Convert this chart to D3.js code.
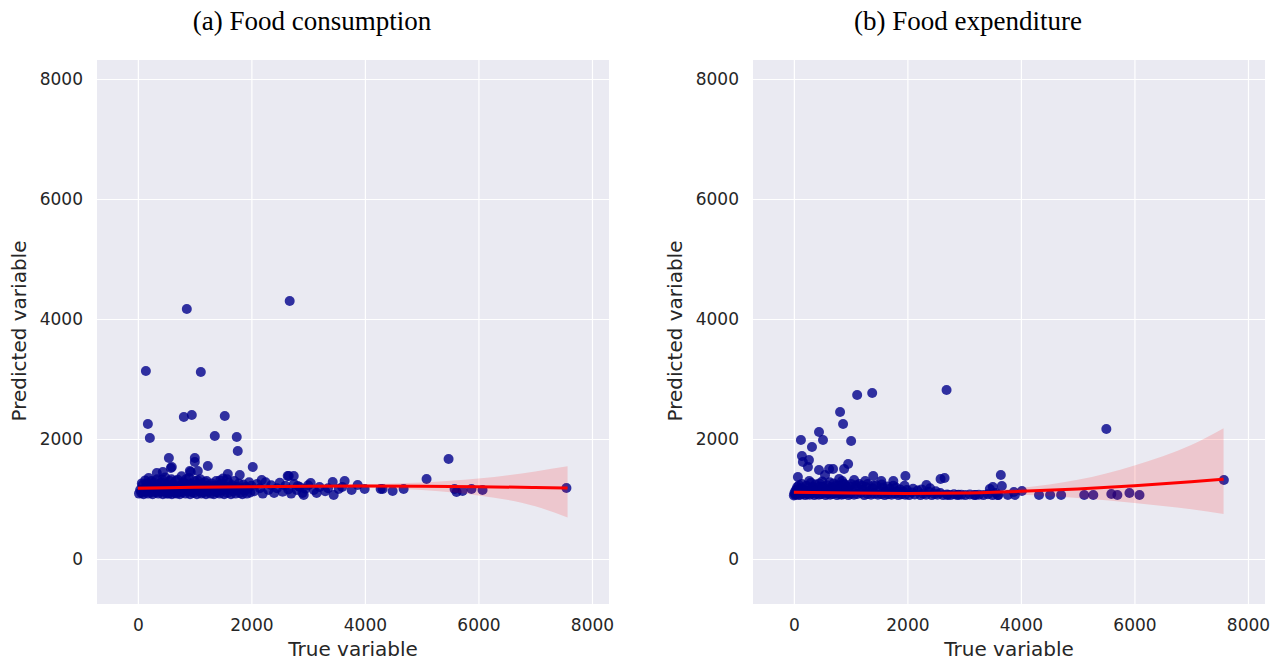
<!DOCTYPE html>
<html>
<head>
    <title></title>
    <meta charset="utf-8">
    <style>
        body { margin: 0; background: #fff; }
    </style>
</head>
<body>
<script src="https://cdn.jsdelivr.net/npm/d3@7"></script>
<script>
    // values
    var titles = ['(a) Food consumption', '(b) Food expenditure'];
    var tickValues = [0, 2000, 4000, 6000, 8000];

    var consumptionPoints = [
        [20,1090],[40,1150],[60,1100],[80,1230],[100,1080],[120,1180],[140,1120],[160,1260],[180,1090],[200,1200],
        [220,1140],[240,1300],[260,1080],[280,1170],[300,1240],[320,1110],[340,1330],[360,1090],[380,1200],[400,1150],
        [420,1280],[440,1080],[460,1190],[480,1360],[500,1120],[520,1230],[540,1090],[560,1300],[580,1160],[600,1080],
        [620,1250],[640,1130],[660,1200],[680,1090],[700,1320],[720,1150],[740,1080],[760,1230],[780,1110],[800,1280],
        [820,1170],[840,1090],[860,1210],[880,1130],[900,1350],[920,1080],[940,1250],[960,1160],[980,1100],[1000,1300],
        [1020,1190],[1040,1080],[1060,1240],[1080,1130],[1100,1330],[1120,1090],[1140,1200],[1160,1150],[1180,1280],[1200,1080],
        [1220,1220],[1240,1120],[1260,1180],[1280,1090],[1300,1260],[1320,1150],[1340,1080],[1360,1220],[1380,1300],[1400,1110],
        [1420,1190],[1440,1090],[1460,1250],[1480,1140],[1500,1340],[1520,1080],[1540,1210],[1560,1160],[1580,1100],[1600,1270],
        [1620,1190],[1640,1080],[1660,1230],[1680,1130],[1700,1300],[1720,1090],[1740,1200],[1760,1150],[1780,1260],[1800,1100],
        [1820,1180],[1840,1080],[1860,1240],[1880,1140],[1900,1200],[1920,1090],[1940,1170],[1960,1280],[1980,1110],[2000,1220],
        [70,1260],[130,1310],[190,1350],[250,1200],[330,1180],[410,1120],[450,1240],[530,1170],[590,1330],[650,1100],
        [710,1210],[770,1380],[830,1260],[890,1170],[950,1120],[1010,1230],[1070,1170],[1150,1110],[1210,1300],[1270,1140],
        [1350,1190],[1430,1230],[1510,1170],[1570,1330],[1650,1190],[334,1433],[440,1450],[1584,1417],[1795,1400],[2182,1317],
        [110,1140],[170,1200],[230,1110],[290,1280],[370,1140],[430,1320],[510,1090],[570,1220],[670,1300],[730,1120],
        [790,1190],[850,1330],[910,1230],[990,1180],[1050,1310],[1130,1250],[1190,1140],[1290,1220],[1370,1120],[1450,1310],
        [2050,1130],[2100,1250],[2150,1180],[2200,1090],[2250,1280],[2300,1150],[2350,1230],[2400,1100],[2450,1180],[2500,1270],
        [2550,1120],[2600,1220],[2650,1160],[2700,1090],[2750,1250],[2800,1150],[2850,1200],[2900,1100],[2950,1170],[3000,1230],
        [2922,1067],[2816,1217],[3045,1267],[3100,1150],[3200,1200],[3300,1130],[3432,1283],[3450,1067],[3538,1167],[3643,1300],
        [3766,1150],[3872,1233],[3995,1167],[3600,1200],[3150,1100],[3350,1180],
        [4277,1167],[4312,1167],[4488,1133],[4682,1167],[5086,1333],[5474,1667],[5579,1167],[5614,1117],[5720,1133],[5878,1167],
        [6072,1150],[7550,1183],
        [862,4167],[2675,4300],[141,3133],[1109,3117],[810,2367],[950,2400],[1531,2383],[176,2250],[211,2017],[1355,2050],
        [1742,2033],[1760,1800],[546,1683],[1003,1683],[1003,1617],[1232,1550],[2024,1533],[915,1467],[1056,1467],[581,1517],
        [598,1533],[932,1450],[2658,1383],[2746,1383],[2640,1383]
    ];

    var expenditurePoints = [
        [0,1060],[10,1100],[20,1070],[30,1140],[40,1080],[60,1200],[80,1065],[100,1120],[120,1070],[140,1250],
        [160,1090],[180,1160],[200,1065],[220,1220],[240,1080],[260,1130],[280,1070],[300,1270],[320,1100],[340,1180],
        [360,1065],[380,1240],[400,1090],[420,1150],[440,1070],[460,1210],[480,1080],[500,1290],[520,1110],[540,1170],
        [560,1065],[580,1230],[600,1090],[620,1140],[640,1070],[660,1200],[680,1085],[700,1260],[720,1100],[740,1160],
        [760,1065],[780,1220],[800,1090],[820,1130],[840,1070],[860,1190],[880,1080],[900,1240],[920,1100],[940,1160],
        [960,1065],[980,1210],[1000,1090],[1030,1140],[1060,1070],[1090,1190],[1120,1085],[1150,1250],[1180,1100],[1210,1150],
        [1240,1065],[1270,1200],[1300,1085],[1330,1130],[1360,1070],[1390,1180],[1420,1090],[1450,1230],[1480,1070],[1510,1140],
        [1540,1085],[1570,1190],[1600,1065],[1630,1120],[1660,1080],[1690,1170],[1720,1070],[1750,1220],[1780,1090],[1810,1130],
        [1840,1065],[1870,1160],[1900,1080],[1930,1120],[1960,1070],[1990,1150],[2030,1065],[2080,1110],[2130,1075],[2180,1140],
        [2230,1065],[2280,1090],[2330,1070],[2380,1120],[2430,1065],[2480,1085],[2530,1070],[2580,1100],[2630,1065],[2700,1075],
        [2760,1065],[2820,1080],[2880,1065],[2950,1070],[3020,1065],[3100,1075],[3180,1065],[3260,1070],[3340,1065],[3420,1080],
        [3500,1065],[3560,1100],[3600,1065],
        [50,1160],[90,1230],[150,1180],[210,1120],[270,1300],[330,1200],[390,1150],[450,1260],[510,1200],[570,1130],
        [630,1280],[690,1170],[750,1230],[810,1170],[870,1260],[930,1200],[1010,1250],[1100,1230],[1200,1220],[1300,1250],
        [1400,1220],[1550,1240],[1650,1210],[1800,1190],[1950,1220],[2100,1170],[2250,1160],[2400,1180],[2500,1130],
        [1115,2733],[1380,2767],[2690,2817],[814,2450],[867,2250],[443,2117],[124,1983],[513,1983],[1009,1967],[319,1867],
        [142,1717],[159,1617],[266,1650],[248,1533],[956,1583],[885,1500],[443,1483],[620,1500],[690,1500],[549,1400],
        [71,1367],[5505,2167],[7576,1317],[3646,1400],[3664,1217],[3505,1200],[3452,1167],[2584,1333],[2655,1350],[1965,1383],
        [1398,1383],[1540,1300],[1752,1300],[2336,1233],[1257,1300],[1062,1317],[797,1333],[850,1300],
        [4018,1133],[4319,1067],[4514,1067],[4708,1067],[5115,1067],[5275,1067],[5593,1083],[5699,1067],[5912,1100],[6089,1067],
        [3876,1117],[3770,1067],[3894,1067],[2708,1067],[2900,1070],[3200,1067],[3593,1067]
    ];

    // regression fit and confidence band
    var fitX = [0, 1000, 2000, 3000, 4000, 5000, 6000, 7000, 7570];
    var consumptionFit = [1180, 1195, 1205, 1212, 1215, 1212, 1205, 1192, 1182];
    var consumptionLow = [1145, 1170, 1185, 1190, 1185, 1150, 1060, 880, 690];
    var consumptionHigh = [1215, 1220, 1225, 1234, 1245, 1275, 1340, 1460, 1545];
    var expenditureFit = [1112, 1098, 1092, 1100, 1128, 1168, 1222, 1288, 1330];
    var expenditureLow = [1082, 1075, 1072, 1075, 1072, 1015, 935, 830, 750];
    var expenditureHigh = [1142, 1120, 1112, 1125, 1185, 1320, 1560, 1900, 2180];

    var svg = d3.select('body').append('svg')
        .attr('width', 1282)
        .attr('height', 660);

    var plot = { top: 60, width: 512, height: 544 };
    var lefts = [97, 753];
    var titleX = [312, 968];

    var y = d3.scaleLinear().domain([-750, 8317]).range([plot.height, 0]);
    var x = d3.scaleLinear().domain([-720, 8300]).range([0, plot.width]);

    function drawPanel(i, points, fit, low, high) {
        var g = svg.append('g')
            .attr('transform', 'translate(' + lefts[i] + ',' + plot.top + ')');

        g.append('rect')
            .attr('width', plot.width)
            .attr('height', plot.height)
            .attr('fill', '#EAEAF2');

        // grid
        g.append('g')
            .attr('transform', 'translate(0,' + plot.height + ')')
            .call(d3.axisBottom(x).tickValues(tickValues).tickSize(-plot.height).tickFormat(''))
            .call(function (a) { a.select('.domain').remove(); })
            .selectAll('line').attr('stroke', '#fff').attr('stroke-width', 1.2);
        g.append('g')
            .call(d3.axisLeft(y).tickValues(tickValues).tickSize(-plot.width).tickFormat(''))
            .call(function (a) { a.select('.domain').remove(); })
            .selectAll('line').attr('stroke', '#fff').attr('stroke-width', 1.2);

        // tick labels
        var xa = g.append('g')
            .attr('transform', 'translate(0,' + plot.height + ')')
            .call(d3.axisBottom(x).tickValues(tickValues).tickSize(0).tickPadding(15).tickFormat(d3.format('d')));
        xa.select('.domain').remove();
        xa.selectAll('text')
            .attr('font-family', 'DejaVu Sans')
            .attr('font-size', 17)
            .attr('fill', '#262626');

        var ya = g.append('g')
            .call(d3.axisLeft(y).tickValues(tickValues).tickSize(0).tickPadding(14).tickFormat(d3.format('d')));
        ya.select('.domain').remove();
        ya.selectAll('text')
            .attr('font-family', 'DejaVu Sans')
            .attr('font-size', 17)
            .attr('fill', '#262626');

        // scatter
        g.append('g').selectAll('circle')
            .data(points)
            .enter()
            .append('circle')
            .attr('cx', function (d) { return x(d[0]); })
            .attr('cy', function (d) { return y(d[1]); })
            .attr('r', 5)
            .attr('fill', '#00008B')
            .attr('fill-opacity', 0.8);

        // confidence band
        var area = d3.area()
            .x(function (d, j) { return x(fitX[j]); })
            .y0(function (d, j) { return y(low[j]); })
            .y1(function (d, j) { return y(high[j]); })
            .curve(d3.curveMonotoneX);
        g.append('path')
            .datum(fitX)
            .attr('d', area)
            .attr('fill', 'red')
            .attr('fill-opacity', 0.15);

        var line = d3.line()
            .x(function (d, j) { return x(fitX[j]); })
            .y(function (d) { return y(d); })
            .curve(d3.curveMonotoneX);
        g.append('path')
            .datum(fit)
            .attr('d', line)
            .attr('fill', 'none')
            .attr('stroke', 'red')
            .attr('stroke-width', 3);

        // labels
        svg.append('text')
            .attr('x', titleX[i])
            .attr('y', 30)
            .attr('text-anchor', 'middle')
            .attr('font-family', 'Liberation Serif')
            .attr('font-size', 27)
            .attr('fill', '#000')
            .text(titles[i]);

        svg.append('text')
            .attr('x', lefts[i] + plot.width / 2)
            .attr('y', 656)
            .attr('text-anchor', 'middle')
            .attr('font-family', 'DejaVu Sans')
            .attr('font-size', 20)
            .attr('fill', '#262626')
            .text('True variable');

        svg.append('text')
            .attr('transform', 'translate(' + (lefts[i] - 71) + ',' + (plot.top + plot.height / 2 - 1) + ') rotate(-90)')
            .attr('text-anchor', 'middle')
            .attr('font-family', 'DejaVu Sans')
            .attr('font-size', 20)
            .attr('fill', '#262626')
            .text('Predicted variable');
    }

    drawPanel(0, consumptionPoints, consumptionFit, consumptionLow, consumptionHigh);
    drawPanel(1, expenditurePoints, expenditureFit, expenditureLow, expenditureHigh);
</script>
</body>
</html>
